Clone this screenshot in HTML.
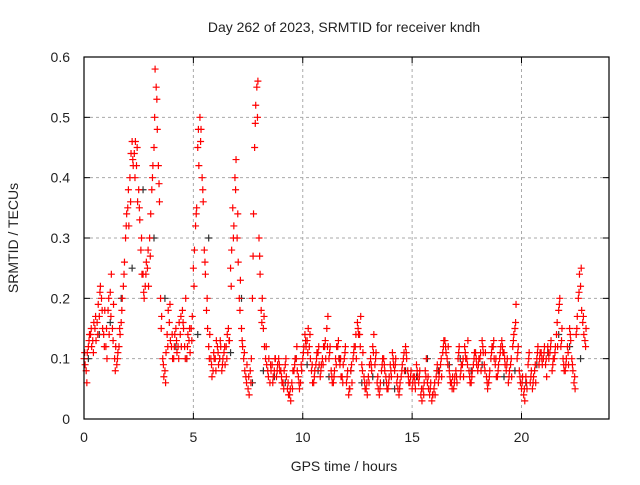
<!DOCTYPE html>
<html><head><meta charset="utf-8"><style>
body{margin:0;background:#fff;width:640px;height:480px;overflow:hidden}
svg text{font-family:"Liberation Sans",sans-serif;font-size:14px;fill:#222}
</style></head><body>
<svg id="chart" width="640" height="480" xmlns="http://www.w3.org/2000/svg">
<text x="344" y="32" text-anchor="middle">Day 262 of 2023, SRMTID for receiver kndh</text>
<text x="344" y="471" text-anchor="middle">GPS time / hours</text>
<text transform="translate(18,238) rotate(-90)" text-anchor="middle">SRMTID / TECUs</text>
<g id="grid"></g><g id="ticks"></g><g id="marks"></g>
<rect x="84" y="57" width="525" height="362" fill="none" stroke="#000" stroke-width="1.2"/>
</svg>
<script>
const xTicks=[0,5,10,15,20];
const yTicks=[0,0.1,0.2,0.3,0.4,0.5,0.6];
const yTickLabels=["0","0.1","0.2","0.3","0.4","0.5","0.6"];
const redStep=0.1;
const redValues=[0.10,0.08,0.12,0.14,0.13,0.15,0.16,0.17,0.20,0.14,
0.12,0.18,0.21,0.15,0.10,0.09,0.12,0.16,0.22,0.30,
0.35,0.40,0.46,0.44,0.42,0.38,0.28,0.24,0.22,0.25,
0.30,0.38,0.45,0.55,0.42,0.20,0.10,0.08,0.14,0.16,
0.12,0.10,0.15,0.12,0.14,0.18,0.12,0.10,0.13,0.15,
0.25,0.32,0.45,0.50,0.40,0.28,0.18,0.12,0.10,0.08,
0.10,0.12,0.10,0.08,0.11,0.12,0.15,0.25,0.35,0.40,
0.30,0.20,0.15,0.10,0.07,0.05,0.08,0.20,0.45,0.55,
0.30,0.18,0.15,0.10,0.08,0.06,0.09,0.08,0.07,0.10,
0.08,0.06,0.09,0.05,0.04,0.06,0.08,0.10,0.07,0.06,
0.10,0.14,0.13,0.12,0.08,0.06,0.09,0.11,0.07,0.10,
0.12,0.15,0.10,0.08,0.06,0.10,0.12,0.09,0.07,0.10,
0.06,0.04,0.08,0.10,0.12,0.16,0.14,0.09,0.07,0.05,
0.07,0.10,0.12,0.09,0.06,0.04,0.08,0.10,0.07,0.05,
0.09,0.11,0.08,0.06,0.04,0.07,0.10,0.12,0.08,0.06,
0.05,0.07,0.09,0.06,0.04,0.05,0.08,0.06,0.04,0.03,
0.05,0.07,0.06,0.09,0.11,0.13,0.10,0.08,0.06,0.05,
0.08,0.10,0.07,0.09,0.12,0.10,0.08,0.06,0.09,0.11,
0.08,0.10,0.13,0.09,0.07,0.06,0.10,0.12,0.09,0.07,
0.10,0.13,0.11,0.08,0.06,0.09,0.12,0.15,0.10,0.08,
0.05,0.04,0.07,0.09,0.06,0.05,0.08,0.10,0.09,0.11,
0.10,0.09,0.12,0.11,0.08,0.10,0.14,0.18,0.12,0.10,
0.08,0.12,0.15,0.10,0.06,0.14,0.20,0.22,0.16,0.13];
const redExtra=[0.09,0.11,0.14,0.12,0.16,0.13,0.19,0.22,0.15,0.18,
0.10,0.14,0.24,0.19,0.12,0.11,0.14,0.20,0.26,0.34,
0.32,0.44,0.42,0.46,0.36,0.33,0.24,0.20,0.26,0.22,
0.34,0.42,0.58,0.48,0.36,0.17,0.07,0.11,0.18,0.13,
0.10,0.14,0.11,0.16,0.12,0.15,0.20,0.14,0.11,0.17,
0.28,0.35,0.42,0.48,0.36,0.24,0.15,0.14,0.07,0.10,
0.13,0.09,0.12,0.10,0.09,0.14,0.13,0.28,0.32,0.43,
0.26,0.23,0.12,0.08,0.09,0.04,0.10,0.34,0.52,0.56,
0.24,0.20,0.12,0.09,0.10,0.08,0.07,0.10,0.09,0.08,
0.06,0.08,0.07,0.04,0.03,0.08,0.10,0.08,0.05,0.08,
0.12,0.12,0.15,0.10,0.06,0.08,0.11,0.09,0.09,0.12,
0.10,0.17,0.12,0.06,0.08,0.12,0.10,0.07,0.09,0.12,
0.08,0.05,0.06,0.12,0.10,0.14,0.17,0.11,0.05,0.04,
0.09,0.08,0.14,0.11,0.05,0.06,0.10,0.08,0.05,0.07,
0.07,0.09,0.10,0.05,0.06,0.09,0.08,0.10,0.06,0.08,
0.07,0.05,0.07,0.08,0.03,0.06,0.10,0.05,0.06,0.04,
0.04,0.09,0.08,0.07,0.13,0.11,0.12,0.06,0.07,0.07,
0.06,0.12,0.09,0.07,0.10,0.13,0.06,0.08,0.11,0.09,
0.10,0.08,0.11,0.11,0.05,0.08,0.12,0.10,0.07,0.09,
0.12,0.11,0.09,0.10,0.08,0.07,0.14,0.19,0.12,0.06,
0.07,0.03,0.05,0.11,0.08,0.07,0.06,0.12,0.11,0.09,
0.12,0.07,0.10,0.13,0.10,0.12,0.12,0.20,0.15,0.08,
0.10,0.09,0.13,0.08,0.05,0.17,0.24,0.18,0.14,0.15];
const redThird=[0.11,0.06,0.13,0.15,0.11,0.17,0.14,0.21,0.18,0.12,
0.15,0.20,0.17,0.13,0.08,0.10,0.15,0.18,0.24,0.32,
0.38,0.36,0.43,0.40,0.45,0.35,0.30,0.21,0.24,0.28,
0.27,0.40,0.50,0.53,0.39,0.15,0.09,0.06,0.12,0.19,
0.14,0.12,0.13,0.10,0.17,0.16,0.10,0.12,0.15,0.13,
0.22,0.34,0.48,0.46,0.38,0.26,0.20,0.10,0.09,0.11,
0.08,0.11,0.13,0.09,0.12,0.10,0.13,0.22,0.30,0.38,
0.34,0.18,0.13,0.11,0.06,0.07,0.06,0.27,0.49,0.50,
0.27,0.16,0.17,0.12,0.07,0.09,0.06,0.10,0.08,0.09,
0.07,0.05,0.10,0.06,0.05,0.05,0.09,0.12,0.06,0.09,
0.11,0.13,0.11,0.14,0.09,0.07,0.10,0.12,0.08,0.09,
0.13,0.12,0.11,0.07,0.07,0.09,0.13,0.10,0.06,0.11,
0.07,0.05,0.09,0.11,0.14,0.15,0.12,0.08,0.06,0.06,
0.06,0.09,0.11,0.10,0.07,0.05,0.09,0.09,0.06,0.06,
0.08,0.10,0.09,0.07,0.05,0.08,0.11,0.11,0.07,0.07,
0.06,0.06,0.08,0.07,0.05,0.04,0.07,0.07,0.05,0.04,
0.06,0.08,0.07,0.10,0.12,0.12,0.09,0.07,0.05,0.06,
0.07,0.11,0.08,0.10,0.11,0.09,0.07,0.07,0.10,0.10,
0.09,0.11,0.12,0.08,0.06,0.07,0.11,0.13,0.10,0.08,
0.11,0.12,0.10,0.09,0.07,0.10,0.13,0.16,0.11,0.07,
0.06,0.05,0.06,0.10,0.07,0.06,0.09,0.11,0.10,0.10,
0.11,0.10,0.11,0.12,0.09,0.11,0.16,0.19,0.13,0.09,
0.09,0.11,0.14,0.09,0.07,0.15,0.21,0.25,0.17,0.12];
const blackStep=0.5;
const blackValues=[0.10,0.14,0.16,0.20,0.25,0.38,0.30,0.20,0.12,0.10,
0.14,0.30,0.10,0.11,0.20,0.06,0.08,0.07,0.06,0.10,
0.09,0.08,0.07,0.10,0.08,0.06,0.07,0.06,0.05,0.08,
0.07,0.10,0.08,0.09,0.10,0.08,0.09,0.12,0.07,0.08,
0.06,0.09,0.11,0.14,0.12,0.10];
const X=v=>84+v*(525/24), Y=v=>419-v*(362/0.6);
const NS="http://www.w3.org/2000/svg";
const mk=(p,t,a)=>{const e=document.createElementNS(NS,t);for(const k in a)e.setAttribute(k,a[k]);p.appendChild(e);return e;};
const grid=document.getElementById('grid'),ticks=document.getElementById('ticks'),marks=document.getElementById('marks');
xTicks.forEach(t=>{
 const g=mk(grid,'line',{x1:X(t),x2:X(t),y1:57,y2:419,stroke:'#aaa','stroke-dasharray':'3,3'});
 
 
 mk(ticks,'line',{x1:X(t),x2:X(t),y1:419,y2:413,stroke:'#000'});
 mk(ticks,'line',{x1:X(t),x2:X(t),y1:57,y2:63,stroke:'#000'});
 const l=mk(ticks,'text',{x:X(t),y:442,'text-anchor':'middle'});l.textContent=t;
 
 
});
yTicks.forEach((t,i)=>{
 const g=mk(grid,'line',{x1:84,x2:609,y1:Y(t),y2:Y(t),stroke:'#aaa','stroke-dasharray':'3,3'});
 
 
 mk(ticks,'line',{x1:84,x2:90,y1:Y(t),y2:Y(t),stroke:'#000'});
 mk(ticks,'line',{x1:603,x2:609,y1:Y(t),y2:Y(t),stroke:'#000'});
 const l=mk(ticks,'text',{x:70,y:Y(t)+5,'text-anchor':'end'});l.textContent=yTickLabels[i];
 
 
});
function plus(x,y,c,name){
 const p=mk(marks,'path',{d:`M${x-3.5},${y}h7M${x},${y-3.5}v7`,stroke:c,'stroke-width':1.2,fill:'none'});
 
 
}
blackValues.forEach((v,i)=>plus(X(i*blackStep+0.2),Y(v),'#333','black-point'));
redValues.forEach((v,i)=>plus(X(i*redStep),Y(v),'#f00','red-point'));
redExtra.forEach((v,i)=>plus(X(i*redStep+0.05),Y(v),'#f00','red-point'));
redThird.forEach((v,i)=>plus(X(i*redStep+0.03),Y(v),'#f00','red-point'));
</script>
</body></html>
